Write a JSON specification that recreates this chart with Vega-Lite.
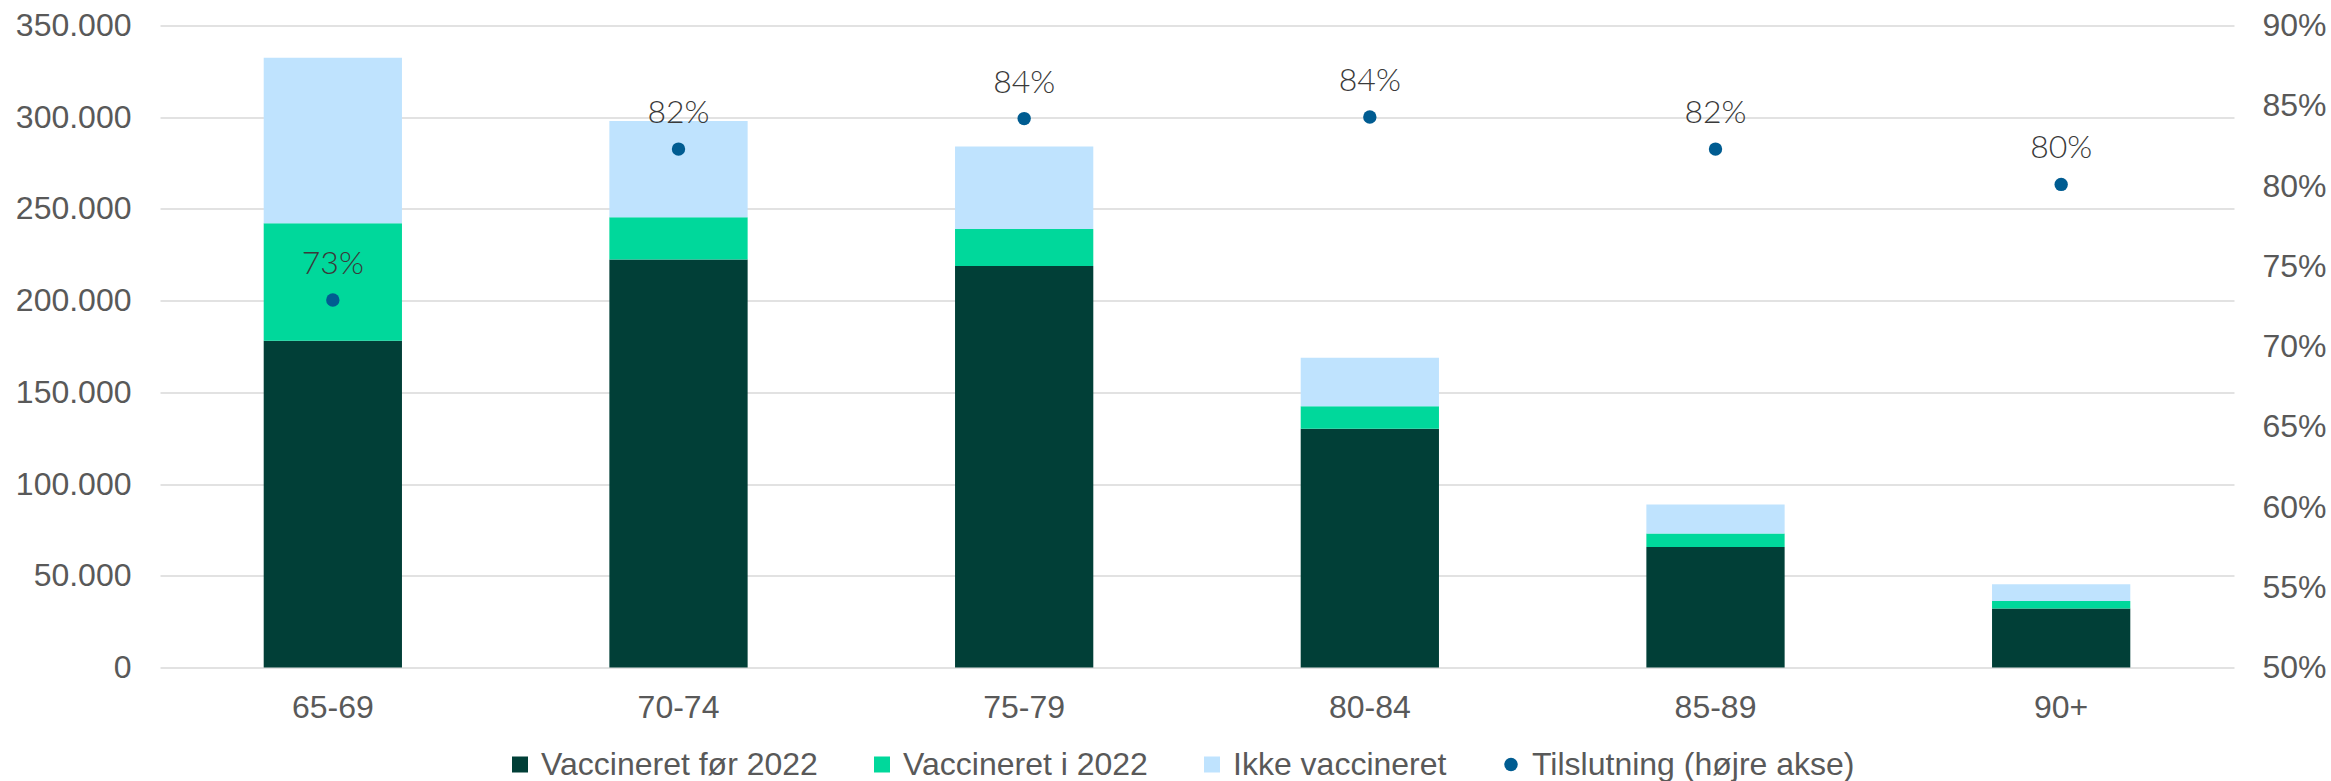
{
  "$schema": "https://vega.github.io/schema/vega-lite/v6.json",
  "width": 2074,
  "height": 642,
  "autosize": {"type": "none"},
  "padding": {"left": 160, "top": 25.5, "right": 97, "bottom": 113.5},
  "background": "white",
  "datasets": {
    "bars": [
      {"alder": "65-69", "serie": "Vaccineret før 2022", "antal": 178200},
      {"alder": "65-69", "serie": "Vaccineret i 2022", "antal": 64000},
      {"alder": "65-69", "serie": "Ikke vaccineret", "antal": 90200},
      {"alder": "70-74", "serie": "Vaccineret før 2022", "antal": 222400},
      {"alder": "70-74", "serie": "Vaccineret i 2022", "antal": 23100},
      {"alder": "70-74", "serie": "Ikke vaccineret", "antal": 52500},
      {"alder": "75-79", "serie": "Vaccineret før 2022", "antal": 218900},
      {"alder": "75-79", "serie": "Vaccineret i 2022", "antal": 20200},
      {"alder": "75-79", "serie": "Ikke vaccineret", "antal": 44900},
      {"alder": "80-84", "serie": "Vaccineret før 2022", "antal": 130200},
      {"alder": "80-84", "serie": "Vaccineret i 2022", "antal": 12200},
      {"alder": "80-84", "serie": "Ikke vaccineret", "antal": 26500},
      {"alder": "85-89", "serie": "Vaccineret før 2022", "antal": 65700},
      {"alder": "85-89", "serie": "Vaccineret i 2022", "antal": 7300},
      {"alder": "85-89", "serie": "Ikke vaccineret", "antal": 15800},
      {"alder": "90+", "serie": "Vaccineret før 2022", "antal": 32100},
      {"alder": "90+", "serie": "Vaccineret i 2022", "antal": 4200},
      {"alder": "90+", "serie": "Ikke vaccineret", "antal": 9100}
    ],
    "pct": [
      {"alder": "65-69", "serie": "Tilslutning (højre akse)", "tilslutning": 0.729},
      {"alder": "70-74", "serie": "Tilslutning (højre akse)", "tilslutning": 0.823},
      {"alder": "75-79", "serie": "Tilslutning (højre akse)", "tilslutning": 0.842},
      {"alder": "80-84", "serie": "Tilslutning (højre akse)", "tilslutning": 0.843},
      {"alder": "85-89", "serie": "Tilslutning (højre akse)", "tilslutning": 0.823},
      {"alder": "90+", "serie": "Tilslutning (højre akse)", "tilslutning": 0.801}
    ]
  },
  "encoding": {
    "x": {
      "field": "alder",
      "type": "nominal",
      "sort": null,
      "title": null,
      "scale": {"paddingInner": 0.6, "paddingOuter": 0.3},
      "axis": {
        "labelAngle": 0,
        "labelFontSize": 32,
        "labelColor": "#595959",
        "labelPadding": 25,
        "ticks": false,
        "domain": false,
        "grid": false
      }
    },
    "color": {
      "field": "serie",
      "type": "nominal",
      "scale": {
        "domain": ["Vaccineret før 2022", "Vaccineret i 2022", "Ikke vaccineret", "Tilslutning (højre akse)"],
        "range": ["#013F37", "#00D89B", "#BFE3FE", "#005C91"]
      },
      "legend": {
        "title": null,
        "orient": "none",
        "direction": "horizontal",
        "legendX": 344,
        "legendY": 723,
        "padding": 0,
        "labelFontSize": 32,
        "labelColor": "#595959",
        "labelFont": "Liberation Sans",
        "labelOffset": 5,
        "columnPadding": 48,
        "symbolType": "square",
        "symbolSize": 256,
        "symbolStrokeWidth": 0,
        "labelLimit": 0,
        "encode": {
          "symbols": {
            "update": {
              "shape": {"signal": "datum.value === 'Tilslutning (højre akse)' ? 'circle' : 'square'"},
              "size": {"signal": "datum.value === 'Tilslutning (højre akse)' ? 180 : 256"},
              "strokeWidth": {"value": 0}
            }
          }
        }
      }
    }
  },
  "layer": [
    {
      "data": {"name": "bars"},
      "transform": [
        {"calculate": "indexof(['Vaccineret før 2022','Vaccineret i 2022','Ikke vaccineret'], datum.serie)", "as": "rang"}
      ],
      "mark": {"type": "bar", "strokeWidth": 0},
      "encoding": {
        "y": {
          "field": "antal",
          "type": "quantitative",
          "stack": "zero",
          "title": null,
          "scale": {"domain": [0, 350000], "nice": false},
          "axis": {
            "values": [0, 50000, 100000, 150000, 200000, 250000, 300000, 350000],
            "format": ",.0f",
            "labelFontSize": 32,
            "labelColor": "#595959",
            "labelPadding": 29,
            "ticks": false,
            "domain": false,
            "grid": true,
            "gridColor": "#D9D9D9",
            "gridWidth": 1.5
          }
        },
        "order": {"field": "rang", "type": "quantitative", "sort": "ascending"}
      }
    },
    {
      "data": {"name": "pct"},
      "encoding": {
        "y": {
          "field": "tilslutning",
          "type": "quantitative",
          "title": null,
          "scale": {"domain": [0.5, 0.9], "nice": false, "zero": false},
          "axis": {
            "orient": "right",
            "values": [0.5, 0.55, 0.6, 0.65, 0.7, 0.75, 0.8, 0.85, 0.9],
            "format": ".0%",
            "labelFontSize": 32,
            "labelColor": "#595959",
            "labelPadding": 28,
            "ticks": false,
            "domain": false,
            "grid": false
          }
        }
      },
      "layer": [
        {
          "mark": {"type": "point", "filled": true, "opacity": 1, "size": 180, "shape": "circle", "strokeWidth": 0}
        },
        {
          "mark": {"type": "text", "font": "Lato", "fontWeight": 300, "fontSize": 32, "color": "#404040", "baseline": "middle", "align": "center", "dy": -36},
          "encoding": {
            "text": {"field": "tilslutning", "type": "quantitative", "format": ".0%"},
            "color": {"value": "#3A3A3A"}
          }
        }
      ]
    }
  ],
  "resolve": {"scale": {"y": "independent"}},
  "config": {
    "view": {"stroke": null},
    "font": "Liberation Sans",
    "axis": {"labelFont": "Liberation Sans"},
    "locale": {
      "number": {"decimal": ",", "thousands": ".", "grouping": [3], "currency": ["", " kr."]}
    }
  }
}
